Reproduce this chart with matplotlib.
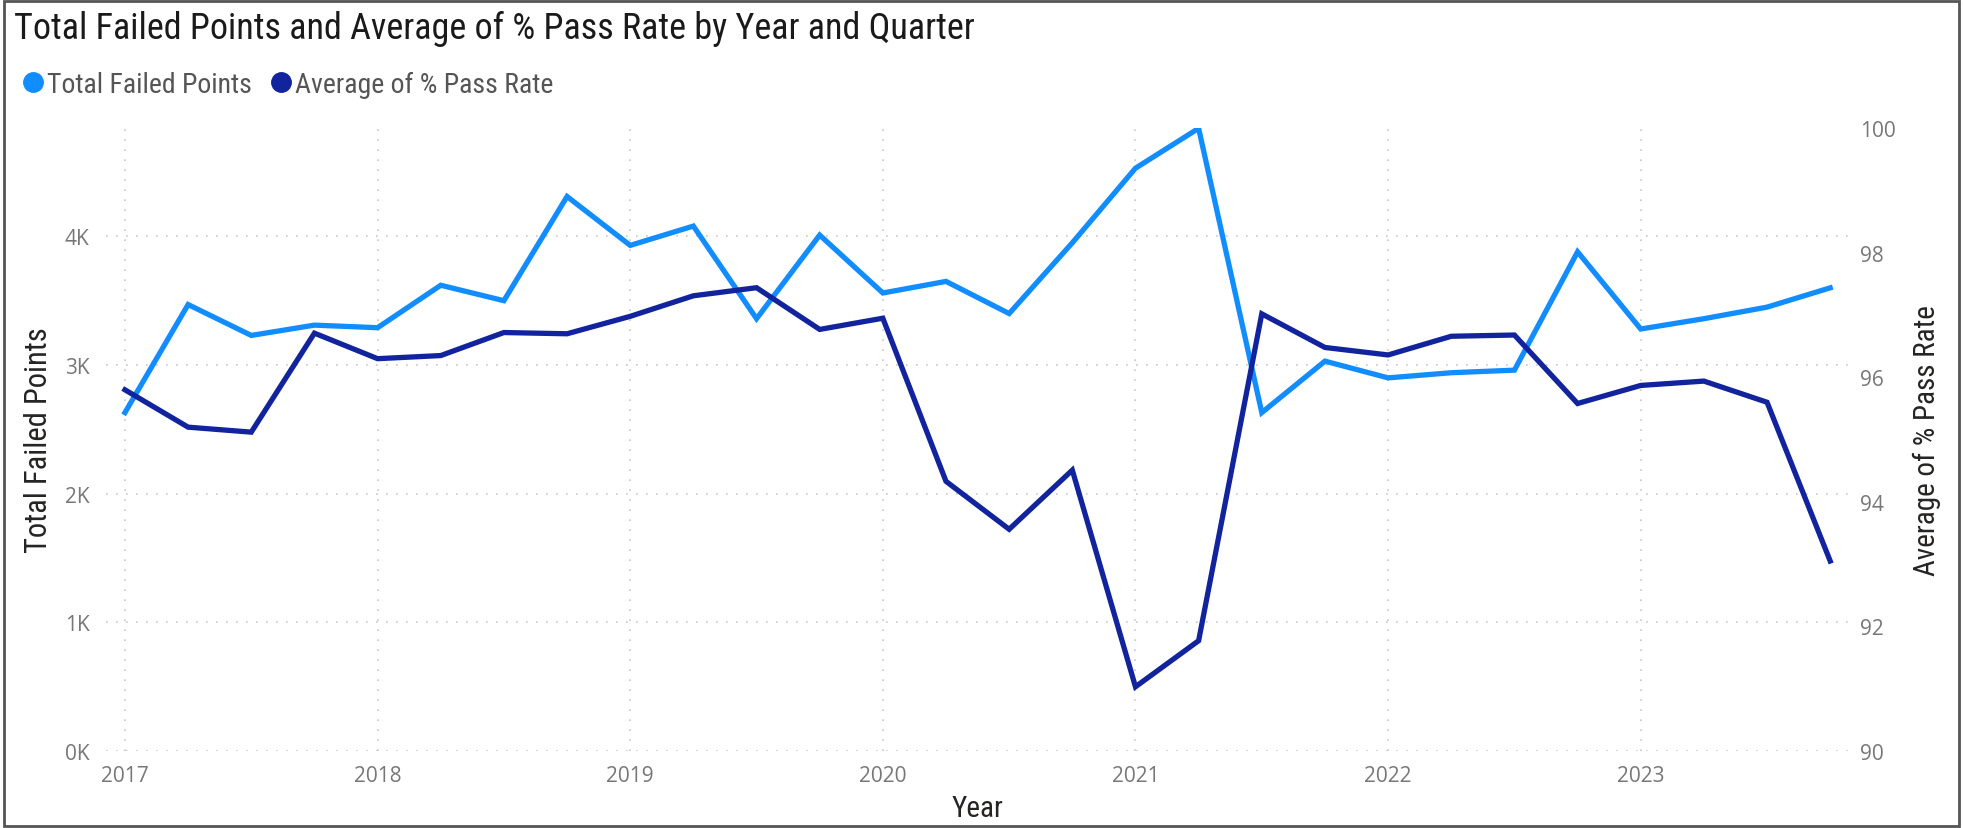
import matplotlib
matplotlib.use("Agg")
import matplotlib.pyplot as plt
from matplotlib import font_manager
from matplotlib.patches import Rectangle
from matplotlib.lines import Line2D
from matplotlib.ticker import FuncFormatter

years = [2017, 2018, 2019, 2020, 2021, 2022, 2023]
quarters = [y + q / 4 for y in years for q in range(4)]

failed_points = [2630, 3470, 3230, 3310, 3290, 3620, 3500, 4310,
                 3930, 4080, 3360, 4010, 3560, 3650, 3400, 3950,
                 4530, 4840, 2630, 3030, 2900, 2940, 2960, 3880,
                 3280, 3360, 3450, 3600]
pass_rate = [95.80, 95.20, 95.12, 96.71, 96.30, 96.35, 96.72, 96.70,
             96.98, 97.31, 97.44, 96.77, 96.95, 94.33, 93.56, 94.51,
             91.03, 91.77, 97.02, 96.48, 96.36, 96.66, 96.68, 95.58,
             95.87, 95.94, 95.60, 93.05]

light = "#118DFF"
dark = "#12239E"
grey = "#777777"

# condensed face for the Power BI look, if there is one
names = set(f.name for f in font_manager.fontManager.ttflist)
cond = {"family": "DejaVu Sans", "stretch": "condensed"}
for n in ["Liberation Sans Narrow", "Roboto Condensed", "Open Sans Condensed"]:
    if n in names:
        cond = {"family": n}
        break

fig = plt.figure(figsize=(19.63, 8.29), dpi=100)
ax = fig.add_axes([0.054, 0.093, 0.888, 0.751])
ax2 = ax.twinx()

ax.plot(quarters, failed_points, color=light, lw=3.8, solid_joinstyle="miter", zorder=3)
ax2.plot(quarters, pass_rate, color=dark, lw=3.8, solid_joinstyle="miter", zorder=3)

ax.set_xlim(2017 - 0.075, 2023.75 + 0.075)
ax.set_ylim(0, 4840)
ax2.set_ylim(90, 100)

ax.set_xticks(years)
ax.set_xticklabels([str(y) for y in years])
ax.set_yticks([0, 1000, 2000, 3000, 4000])
ax.yaxis.set_major_formatter(FuncFormatter(lambda v, p: "{:d}K".format(int(v / 1000))))
ax2.set_yticks([90, 92, 94, 96, 98, 100])

ax.grid(True, linestyle=(0, (1, 5)), color="#c8c8c8", lw=1.2)
for a in (ax, ax2):
    for s in a.spines.values():
        s.set_visible(False)
    a.tick_params(length=0, labelsize=15, labelcolor=grey)
    for lab in a.get_yticklabels() + a.get_xticklabels():
        lab.set_family("Open Sans")
ax.tick_params(axis="y", pad=12)
ax.tick_params(axis="x", pad=10)
ax2.tick_params(axis="y", pad=8)

ax.set_xlabel("Year", fontsize=21, color="#252423", labelpad=6, **cond)
ax.set_ylabel("Total Failed Points", fontsize=22, color="#252423", labelpad=8, **cond)
ax2.set_ylabel("Average of % Pass Rate", fontsize=21, color="#252423", labelpad=12, **cond)

fig.text(0.007, 0.965, "Total Failed Points and Average of % Pass Rate by Year and Quarter",
         fontsize=26, color="#1a1a1a", va="center", ha="left", **cond)

handles = [Line2D([], [], marker="o", ls="", color=light, markersize=14),
           Line2D([], [], marker="o", ls="", color=dark, markersize=14)]
fig.legend(handles, ["Total Failed Points", "Average of % Pass Rate"],
           loc="center left", bbox_to_anchor=(0.004, 0.897), ncol=2, frameon=False,
           prop=dict(size=20, **cond), handletextpad=0.0, columnspacing=0.55,
           labelcolor="#555555", borderaxespad=0, handlelength=1.0)

fig.patches.append(Rectangle((0.002, 0.003), 0.996, 0.994, transform=fig.transFigure,
                             fill=False, edgecolor="#555555", lw=2))

fig.savefig("out.png", dpi=100)
